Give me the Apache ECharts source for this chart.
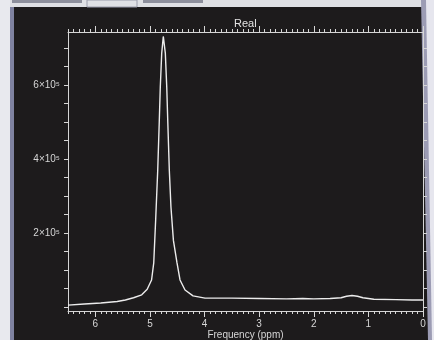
<!DOCTYPE html>
<html>
<head>
<meta charset="utf-8">
<script src="https://cdn.jsdelivr.net/npm/echarts@6/dist/echarts.min.js"></script>
<style>
  html, body { margin: 0; padding: 0; background: #1d1b1c; }
  #chart { width: 434px; height: 340px; }
</style>
</head>
<body>
<div id="chart"></div>
<script>
// spectrum: chemical shift (ppm) and intensity
var ppm = [6.5, 6.2, 5.9, 5.6, 5.45, 5.3, 5.15, 5.05, 4.97, 4.93, 4.895, 4.857, 4.828, 4.81, 4.784, 4.755,
  4.718, 4.692, 4.674, 4.645, 4.615, 4.57, 4.504, 4.449, 4.357, 4.211, 3.99, 3.5, 3.0, 2.5, 2.2, 2.0,
  1.7, 1.5, 1.4, 1.3, 1.2, 1.1, 0.9, 0.5, 0.2, 0.0];
var intensity = [5000, 8000, 11000, 15000, 19000, 25000, 33000, 48000, 73000, 119000, 235000, 370000, 505000, 595000, 686000, 731000,
  686000, 595000, 505000, 370000, 270000, 180000, 119000, 73000, 46000, 30000, 24000, 24000, 23000, 22000, 23000, 22000,
  23000, 25000, 29000, 31000, 29000, 25000, 21000, 20000, 19000, 19000];

var xTickValues = [0, 1, 2, 3, 4, 5, 6];
var xTickLabels = ['0', '1', '2', '3', '4', '5', '6'];
var yTickValues = [200000, 400000, 600000];
var yTickLabels = ['2×10⁵', '4×10⁵', '6×10⁵'];

// minor ticks every 0.1 ppm and every 0.5x10^5
var xMinor = [];
for (var i = 0; i <= 65; i++) xMinor.push(i / 10);
var yMinor = [];
for (var j = 0; j <= 14; j++) yMinor.push(j * 50000);

var fg = '#d6d6d6';
var font = 'Liberation Sans, DejaVu Sans, sans-serif';

var data = ppm.map(function (p, k) { return [p, intensity[k]]; });

function xAx(pos, ticks, len, showLine, labels) {
  return {
    type: 'value', position: pos, min: 0, max: 6.5, inverse: true, offset: 0,
    splitLine: { show: false },
    axisLine: { show: showLine, onZero: false, lineStyle: { color: fg, width: 1 } },
    axisTick: { show: true, inside: false, length: len, customValues: ticks, lineStyle: { color: fg, width: 1 } },
    axisLabel: labels ? {
      show: true, customValues: xTickValues, color: fg, fontSize: 10, fontFamily: font, margin: 8,
      formatter: function (v) { return xTickLabels[xTickValues.indexOf(Math.round(v))]; }
    } : { show: false }
  };
}

function yAx(pos, labels) {
  return {
    type: 'value', position: pos, min: -10800, max: 743000, offset: 0,
    splitLine: { show: false },
    axisLine: { show: true, onZero: false, lineStyle: { color: fg, width: 1 } },
    axisTick: { show: true, inside: false, length: 4, customValues: yMinor, lineStyle: { color: fg, width: 1 } },
    axisLabel: labels ? {
      show: true, customValues: yTickValues, color: fg, fontSize: 10, fontFamily: font, margin: 8,
      formatter: function (v) { return yTickLabels[yTickValues.indexOf(v)]; }
    } : { show: false }
  };
}

var myChart = echarts.init(document.getElementById('chart'), null, { renderer: 'canvas' });
myChart.setOption({
  backgroundColor: '#1d1b1c',
  animation: false,
  title: {
    text: 'Real', left: 229, top: 13,
    textStyle: { color: '#e4e4e4', fontSize: 11, fontWeight: 'normal', fontFamily: font }
  },
  grid: { left: 68, right: 11, top: 32, bottom: 29, outerBoundsMode: 'none', containLabel: false },
  xAxis: [
    Object.assign(xAx('bottom', xTickValues, 6, true, true), {
      name: 'Frequency (ppm)', nameLocation: 'middle', nameGap: 19, nameMoveOverlap: false,
      nameTextStyle: { color: fg, fontSize: 10, fontFamily: font, verticalAlign: 'top' }
    }),
    xAx('bottom', xMinor, 3, false, false),
    xAx('top', xTickValues, 6, true, false),
    xAx('top', xMinor, 3, false, false)
  ],
  yAxis: [yAx('left', true), yAx('right', false)],
  graphic: [
    { type: 'rect', shape: { x: 0, y: 0, width: 10, height: 340 }, style: { fill: '#e8e9ee' }, silent: true },
    { type: 'rect', shape: { x: 10, y: 0, width: 4, height: 340 }, style: { fill: '#7f82a0' }, silent: true },
    { type: 'rect', shape: { x: 10, y: 0, width: 424, height: 7 }, style: { fill: '#dfe0e4' }, silent: true },
    { type: 'rect', shape: { x: 12, y: 0, width: 70, height: 3 }, style: { fill: '#8d8f9c' }, silent: true },
    { type: 'rect', shape: { x: 87, y: 0, width: 50, height: 7 }, style: { fill: 'none', stroke: '#9a9caa', lineWidth: 1 }, silent: true },
    { type: 'rect', shape: { x: 143, y: 0, width: 60, height: 3 }, style: { fill: '#8d8f9c' }, silent: true },
    { type: 'polygon', shape: { points: [[421, 0], [434, 0], [434, 340], [428, 340]] }, style: { fill: '#9c9cb4' }, silent: true },
    { type: 'polygon', shape: { points: [[426, 0], [434, 0], [434, 340], [432, 340]] }, style: { fill: '#e6e6ee' }, silent: true }
  ],
  series: [{
    type: 'line', xAxisIndex: 0, yAxisIndex: 0, data: data,
    showSymbol: false, smooth: false,
    lineStyle: { color: '#ececec', width: 1.4 }
  }]
});
</script>
</body>
</html>
